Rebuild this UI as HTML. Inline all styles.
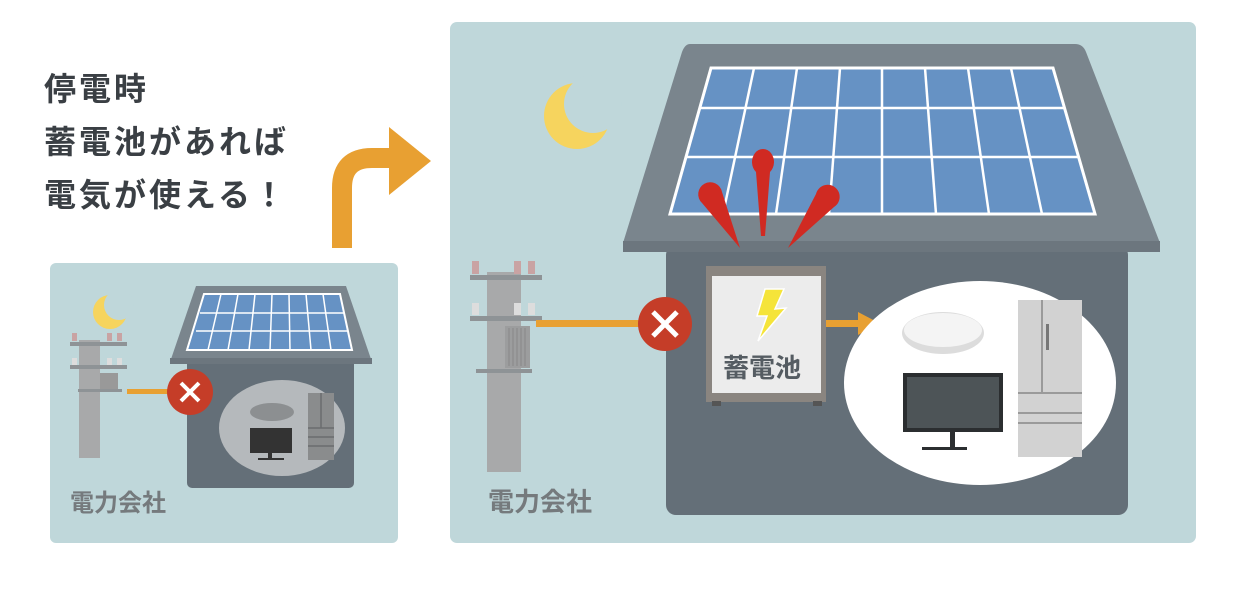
<!DOCTYPE html>
<html><head><meta charset="utf-8"><style>
html,body{margin:0;padding:0;background:#fff;}
svg{display:block}
text{font-family:"Liberation Sans","Noto Sans CJK JP",sans-serif;font-weight:bold;}
</style></head><body>
<svg width="1241" height="605" viewBox="0 0 1241 605" xmlns="http://www.w3.org/2000/svg">
<rect width="1241" height="605" fill="#fff"/>
<!-- headline -->
<g fill="#3a3f44" font-size="32" letter-spacing="3">
<text x="44" y="100">停電時</text>
<text x="44" y="153">蓄電池があれば</text>
<text x="44" y="206">電気が使える！</text>
</g>
<!-- orange bent arrow -->
<path d="M342 248 L342 188 Q342 158 372 158 L394 158" fill="none" stroke="#e8a032" stroke-width="20"/>
<polygon points="389,127 431,161 389,195" fill="#e8a032"/>

<!-- small panel -->
<rect x="50" y="263" width="348" height="280" rx="6" fill="#bfd7da"/>
<circle cx="110" cy="312" r="17" fill="#f6d45e"/>
<circle cx="119" cy="305" r="15" fill="#bfd7da"/>
<rect x="79" y="340" width="21" height="118" fill="#a8a9aa"/>
<rect x="70" y="342" width="57" height="4" fill="#8e9396"/>
<rect x="70" y="365" width="57" height="4" fill="#8e9396"/>
<rect x="78" y="389" width="44" height="3" fill="#8e9396"/>
<rect x="100" y="373" width="18" height="16" fill="#999"/>
<rect x="72" y="333" width="5" height="8" fill="#c9a3a3"/><rect x="107" y="333" width="5" height="8" fill="#c9a3a3"/><rect x="117" y="333" width="5" height="8" fill="#c9a3a3"/>
<rect x="72" y="358" width="5" height="7" fill="#ddd"/><rect x="107" y="358" width="5" height="7" fill="#ddd"/><rect x="117" y="358" width="5" height="7" fill="#ddd"/>
<rect x="127" y="389" width="45" height="5" fill="#e8a032"/>
<rect x="187" y="355" width="167" height="133" rx="5" fill="#646f78"/>
<polygon points="196,286 346,286 372,362 170,362" fill="#7a858d"/>
<rect x="170" y="358" width="202" height="6" fill="#6c767e"/>
<polygon points="204,294 340,294 352,350 187,350" fill="#6692c4" stroke="#fff" stroke-width="2"/>
<g stroke="#fff" stroke-width="1.5">
<line x1="200" y1="313" x2="344" y2="313"/><line x1="196" y1="331" x2="348" y2="331"/>
<line x1="221" y1="294" x2="208" y2="350"/><line x1="238" y1="294" x2="228" y2="350"/><line x1="255" y1="294" x2="249" y2="350"/><line x1="272" y1="294" x2="270" y2="350"/><line x1="289" y1="294" x2="290" y2="350"/><line x1="306" y1="294" x2="311" y2="350"/><line x1="323" y1="294" x2="331" y2="350"/>
</g>
<ellipse cx="282" cy="428" rx="63" ry="48" fill="#b5b9bc"/>
<ellipse cx="272" cy="412" rx="22" ry="9" fill="#8c8f91"/>
<rect x="250" y="428" width="42" height="25" fill="#333"/>
<rect x="268" y="453" width="4" height="6" fill="#333"/><rect x="258" y="458" width="26" height="2" fill="#333"/>
<rect x="308" y="393" width="26" height="67" fill="#8a8c8d"/>
<g stroke="#6a6c6e" stroke-width="1.5"><line x1="308" y1="428" x2="334" y2="428"/><line x1="308" y1="437" x2="334" y2="437"/><line x1="308" y1="446" x2="334" y2="446"/><line x1="321" y1="393" x2="321" y2="428"/></g>
<circle cx="190" cy="392" r="23" fill="#c53d28"/>
<path d="M181 383 L199 401 M199 383 L181 401" stroke="#fff" stroke-width="4"/>
<text x="70" y="511" font-size="24" fill="#757a7d">電力会社</text>

<!-- big panel -->
<rect x="450" y="22" width="746" height="521" rx="7" fill="#bfd7da"/>
<circle cx="577" cy="116" r="33" fill="#f6d45e"/>
<circle cx="593" cy="104" r="29" fill="#bfd7da"/>
<!-- pole -->
<rect x="487" y="272" width="34" height="200" fill="#a8a9aa"/>
<rect x="470" y="275" width="72" height="5" fill="#8e9396"/>
<rect x="470" y="316" width="72" height="5" fill="#8e9396"/>
<rect x="476" y="369" width="56" height="4" fill="#8e9396"/>
<rect x="505" y="326" width="25" height="42" fill="#9c9d9e"/>
<g stroke="#888" stroke-width="1"><line x1="509" y1="328" x2="509" y2="366"/><line x1="513" y1="328" x2="513" y2="366"/><line x1="517" y1="328" x2="517" y2="366"/><line x1="521" y1="328" x2="521" y2="366"/><line x1="525" y1="328" x2="525" y2="366"/></g>
<rect x="472" y="261" width="7" height="13" fill="#c9a3a3"/><rect x="514" y="261" width="7" height="13" fill="#c9a3a3"/><rect x="528" y="261" width="7" height="13" fill="#c9a3a3"/>
<rect x="472" y="303" width="7" height="12" fill="#ddd"/><rect x="514" y="303" width="7" height="12" fill="#ddd"/><rect x="528" y="303" width="7" height="12" fill="#ddd"/>
<rect x="536" y="320" width="106" height="7" fill="#e8a032"/>
<!-- house -->
<rect x="666" y="245" width="462" height="270" rx="10" fill="#646f78"/>
<path d="M690 44 L1075 44 Q1083 44 1086 52 L1160 243 L623 243 L682 52 Q685 44 690 44 Z" fill="#7a858d"/>
<rect x="623" y="241" width="537" height="11" fill="#6c767e"/>
<polygon points="711,68 1053,68 1095,214 670,214" fill="#6692c4" stroke="#fff" stroke-width="3"/>
<g stroke="#fff" stroke-width="2.5">
<line x1="700" y1="108" x2="1064" y2="108"/><line x1="686" y1="157" x2="1078" y2="157"/>
<line x1="754" y1="68" x2="723" y2="214"/><line x1="797" y1="68" x2="776" y2="214"/><line x1="840" y1="68" x2="829" y2="214"/><line x1="882" y1="68" x2="882" y2="214"/><line x1="925" y1="68" x2="936" y2="214"/><line x1="968" y1="68" x2="989" y2="214"/><line x1="1011" y1="68" x2="1042" y2="214"/>
</g>
<!-- drops -->
<g fill="#d02a22">
<path d="M740 248 L702 203 A12 12 0 1 1 722 192 Z"/>
<path d="M761 236 L756 172 A11 13 0 1 1 770 172 L765 236 Z"/>
<path d="M788 248 L816 194 A12 12 0 1 1 834 207 Z"/>
</g>
<!-- battery -->
<rect x="706" y="266" width="120" height="136" fill="#8a8580"/>
<rect x="712" y="276" width="109" height="117" fill="#ececec"/>
<rect x="712" y="401" width="9" height="5" fill="#555"/><rect x="813" y="401" width="9" height="5" fill="#555"/>
<polygon points="765,289 784,289 775,309 786,308 758,341 767,316 757,316" fill="#f5e43a" stroke="#fff" stroke-width="1.5"/>
<text x="723" y="377" font-size="26" fill="#555c62">蓄電池</text>
<rect x="826" y="320" width="36" height="7" fill="#e8a032"/>
<polygon points="858,312 880,323.5 858,335" fill="#e8a032"/>
<circle cx="665" cy="324" r="27" fill="#c53d28"/>
<path d="M653 312 L677 336 M677 312 L653 336" stroke="#fff" stroke-width="5"/>
<!-- appliances -->
<ellipse cx="980" cy="383" rx="136" ry="102" fill="#fff"/>
<ellipse cx="943" cy="333" rx="41" ry="21" fill="#dcdcdc"/>
<ellipse cx="943" cy="330" rx="39" ry="17" fill="#f4f4f4"/>
<rect x="903" y="373" width="100" height="59" fill="#2b2e30"/>
<rect x="907" y="377" width="92" height="51" fill="#4d5457"/>
<rect x="950" y="432" width="5" height="15" fill="#2b2e30"/>
<rect x="922" y="447" width="45" height="3" fill="#2b2e30"/>
<rect x="1018" y="300" width="64" height="157" fill="#d2d2d2"/>
<g stroke="#9a9a9a" stroke-width="2"><line x1="1042" y1="300" x2="1042" y2="393"/><line x1="1018" y1="393" x2="1082" y2="393"/><line x1="1018" y1="413" x2="1082" y2="413"/><line x1="1018" y1="423" x2="1082" y2="423"/></g>
<rect x="1046" y="324" width="3" height="26" fill="#777"/>
<text x="488" y="511" font-size="26" fill="#757a7d">電力会社</text>
</svg>
</body></html>
